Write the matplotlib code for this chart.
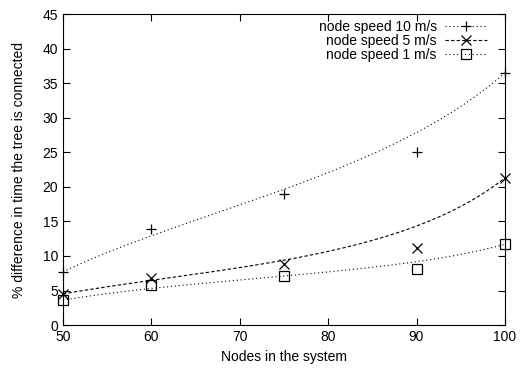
import matplotlib
matplotlib.use("Agg")
import matplotlib.pyplot as plt
import numpy as np
from math import comb
from matplotlib.lines import Line2D

plt.rcParams["font.family"] = ["Liberation Sans", "DejaVu Sans"]

nodes = [50, 60, 75, 90, 100]
speed10 = [7.7, 13.9, 19.0, 25.1, 36.5]
speed5 = [4.5, 6.8, 8.8, 11.1, 21.3]
speed1 = [3.6, 5.8, 7.1, 8.1, 11.7]


def bezier(x, y, num=200):
    # bezier smoothing using the data points as control points
    x = np.asarray(x, float)
    y = np.asarray(y, float)
    n = len(x) - 1
    t = np.linspace(0, 1, num)
    bx = np.zeros(num)
    by = np.zeros(num)
    for k in range(n + 1):
        w = comb(n, k) * (1 - t) ** (n - k) * t ** k
        bx += w * x[k]
        by += w * y[k]
    return bx, by


fig, ax = plt.subplots(figsize=(5.2, 3.69), dpi=100)

series = [
    ("node speed 10 m/s", speed10, "+", (0, (1, 2.5))),
    ("node speed 5 m/s", speed5, "x", (0, (3, 2))),
    ("node speed 1 m/s", speed1, "s", (0, (1, 2.5))),
]
handles = []
for label, ys, mk, ls in series:
    bx, by = bezier(nodes, ys)
    ax.plot(bx, by, color="black", linestyle=ls, linewidth=0.8)
    ax.plot(nodes, ys, linestyle="none", marker=mk, markersize=7.5,
            markerfacecolor="none", markeredgecolor="black", markeredgewidth=0.9,
            clip_on=False)
    handles.append(Line2D([], [], color="black", linestyle=ls, linewidth=0.8,
                          marker=mk, markersize=7.5, markerfacecolor="none",
                          markeredgewidth=0.9))

ax.set_xlim(50, 100)
ax.set_ylim(0, 45)
ax.set_xticks([50, 60, 70, 80, 90, 100])
ax.set_yticks(range(0, 46, 5))
ax.tick_params(direction="in", top=True, right=True, length=5, labelsize=10)
ax.set_xlabel("Nodes in the system", fontsize=10)
ax.set_ylabel("% difference in time the tree is connected", fontsize=10,
              labelpad=12)

ax.legend(handles, [s[0] for s in series], loc="upper right",
          bbox_to_anchor=(0.959, 0.98), frameon=False, borderpad=0,
          markerfirst=False, fontsize=10, handlelength=3.0, borderaxespad=0,
          labelspacing=0.0, handletextpad=0.6)

plt.subplots_adjust(left=0.121, right=0.971, top=0.962, bottom=0.119)
plt.savefig("out.png")
